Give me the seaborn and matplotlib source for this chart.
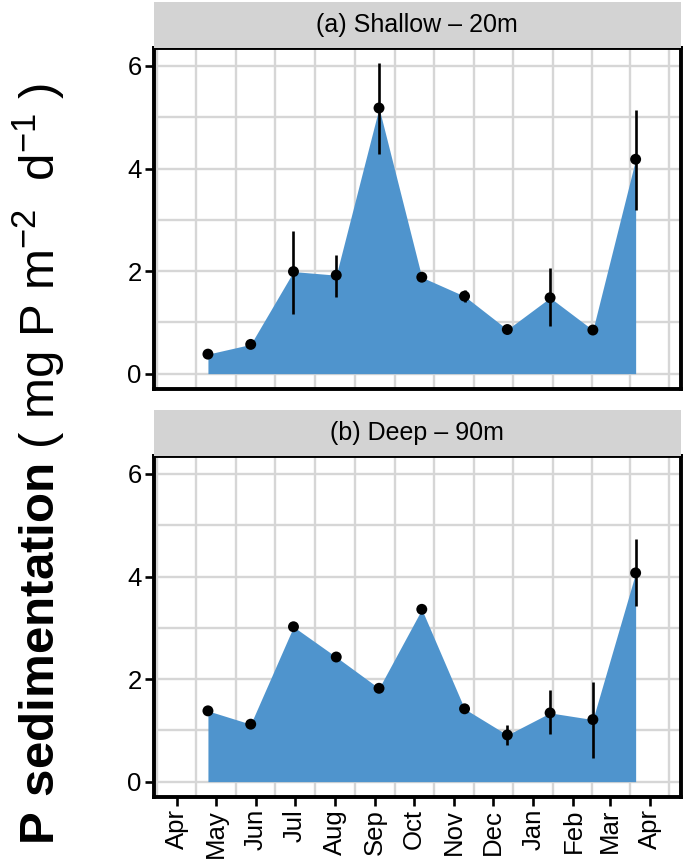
import pandas as pd
import seaborn as sns
import matplotlib.pyplot as plt
import matplotlib.dates as mdates
from matplotlib.ticker import MultipleLocator, FixedLocator

# sampling dates (one deployment per ~month)
dates = pd.to_datetime(['2013-04-25', '2013-05-28', '2013-06-30', '2013-08-02',
                        '2013-09-04', '2013-10-07', '2013-11-09', '2013-12-12',
                        '2014-01-14', '2014-02-16', '2014-03-21'])

# (a) shallow - 20 m
shallow = [0.38, 0.57, 1.99, 1.92, 5.18, 1.88, 1.51, 0.86, 1.48, 0.85, 4.18]
shallow_lo = [0.38, 0.57, 1.17, 1.50, 4.29, 1.88, 1.40, 0.86, 0.92, 0.85, 3.20]
shallow_hi = [0.38, 0.57, 2.79, 2.31, 6.05, 1.88, 1.64, 0.86, 2.05, 0.85, 5.15]

# (b) deep - 90 m
deep = [1.38, 1.12, 3.02, 2.43, 1.82, 3.36, 1.42, 0.91, 1.34, 1.21, 4.07]
deep_lo = [1.38, 1.12, 3.02, 2.43, 1.75, 3.36, 1.42, 0.72, 0.93, 0.47, 3.42]
deep_hi = [1.38, 1.12, 3.02, 2.43, 1.89, 3.36, 1.42, 1.10, 1.78, 1.95, 4.73]

titles = ['(a) Shallow – 20m', '(b) Deep – 90m']

sns.set_theme(style='white')
plt.rcParams['font.family'] = ['Liberation Sans', 'DejaVu Sans']
plt.rcParams['mathtext.fontset'] = 'custom'
plt.rcParams['mathtext.rm'] = 'Liberation Sans'
plt.rcParams['mathtext.bf'] = 'Liberation Sans:bold'

W, H = 685, 859
fig = plt.figure(figsize=(W / 100, H / 100), dpi=100)


def box(l, t, r, b):
    return [l / W, 1 - b / H, (r - l) / W, (b - t) / H]


start = pd.Timestamp('2013-04-01')
xlim = (start - pd.Timedelta(days=18), start + pd.Timedelta(days=389))
month_starts = pd.date_range('2013-03-01', '2014-05-01', freq='MS')
mids = month_starts[:-1] + (month_starts[1:] - month_starts[:-1]) / 2

fill = '#4F94CD'
grid = '#D6D6D6'
panels = [(48, 389), (456, 797)]
series = [(shallow, shallow_lo, shallow_hi), (deep, deep_lo, deep_hi)]

for i, ((top, bot), (vals, lo, hi)) in enumerate(zip(panels, series)):
    ax = fig.add_axes(box(153.5, top, 681, bot))
    ax.fill_between(dates, 0, vals, color=fill, lw=0, zorder=2)
    ax.vlines(dates, lo, hi, color='black', lw=1.9, zorder=3)
    sns.scatterplot(x=dates, y=vals, ax=ax, color='black', s=62,
                    edgecolor='none', zorder=4)

    ax.set_xlim(xlim)
    ax.set_ylim(-0.3, 6.35)
    ax.set_axisbelow(True)
    ax.yaxis.set_major_locator(MultipleLocator(2))
    ax.yaxis.set_minor_locator(MultipleLocator(1))
    ax.xaxis.set_major_locator(mdates.MonthLocator(bymonthday=1))
    ax.xaxis.set_major_formatter(mdates.DateFormatter('%b'))
    ax.xaxis.set_minor_locator(FixedLocator(mdates.date2num(mids)))
    ax.grid(False)
    ax.grid(which='both', axis='y', color=grid, lw=1.7)
    ax.grid(which='minor', axis='x', color=grid, lw=1.7)

    for sp in ax.spines.values():
        sp.set_visible(True)
        sp.set_color('black')
        sp.set_linewidth(2.8)

    ax.tick_params(axis='both', which='major', direction='out', length=6.5,
                   width=1.9, color='black', labelsize=18.5, labelcolor='black', pad=2)
    ax.tick_params(axis='both', which='minor', length=0)
    ax.tick_params(axis='y', left=True)
    if i == 0:
        ax.tick_params(axis='x', bottom=False, labelbottom=False)
    else:
        ax.tick_params(axis='x', bottom=True)
        for lab in ax.get_xticklabels():
            lab.set_rotation(90)
            lab.set_ha('center')
            lab.set_va('top')
    ax.set_xlabel('')
    ax.set_ylabel('')

    sax = fig.add_axes(box(153.5, top - 46, 681, top))
    sax.set_facecolor('#D3D3D3')
    sax.set_xticks([])
    sax.set_yticks([])
    for sp in sax.spines.values():
        sp.set_visible(False)
    sax.text(0.5, 0.5, titles[i], ha='center', va='center', fontsize=18,
             color='black', transform=sax.transAxes)

fig.text(0.058, 1 - 464 / H,
         r'$\mathbf{P\ sedimentation}$ ( mg P m$^{-2}$  d$^{-1}$ )',
         rotation=90, ha='center', va='center', fontsize=35.5, color='black')

fig.savefig('out.png', dpi=100)
